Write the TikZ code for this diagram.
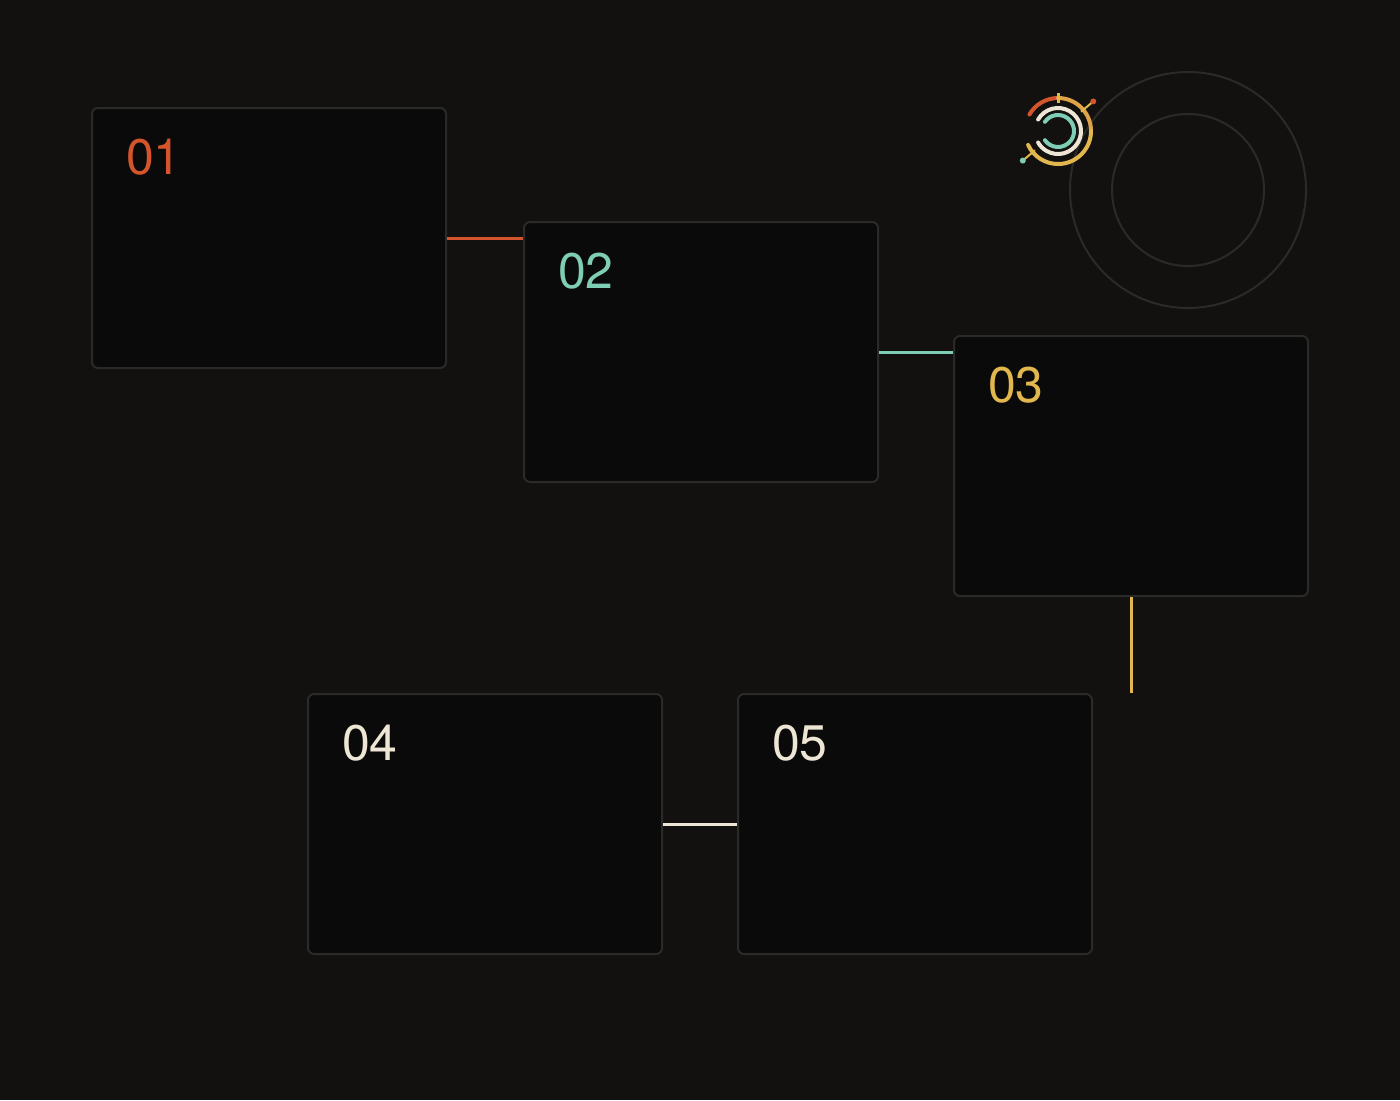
\documentclass[tikz,border=0pt]{standalone}
\usepackage{fontspec}
\setmainfont{TeX Gyre Heros}
\begin{document}
\definecolor{bg}{HTML}{121110}
\definecolor{boxf}{HTML}{0A0A0A}
\definecolor{boxd}{HTML}{2A2A28}
\definecolor{cred}{HTML}{D4552C}
\definecolor{cteal}{HTML}{7ECDB4}
\definecolor{cyel}{HTML}{E2B84E}
\definecolor{ccream}{HTML}{EEE6D4}
\begin{tikzpicture}[x=0.5pt,y=-0.5pt,
  box/.style={draw=boxd,fill=boxf,line width=1pt,rounded corners=3pt,minimum width=177pt,minimum height=130pt,inner sep=0pt},
  num/.style={font=\fontsize{25}{25}\selectfont,anchor=base west},
  conn/.style={line width=1.5pt},
  arcl/.style={line width=2pt,line cap=round}]
\fill[bg] (0,0) rectangle (1400,1100);
\useasboundingbox (0,0) rectangle (1400,1100);
\draw[boxd,line width=1pt] (1188,190) circle[radius=59pt] (1188,190) circle[radius=38pt];
\node[box] (b1) at (269,238) {};
\node[box] (b2) at (701,352) {};
\node[box] (b3) at (1131,466) {};
\node[box] (b4) at (485,824) {};
\node[box] (b5) at (915,824) {};
\node[num,text=cred] (t1) at (119,174) {01};
\node[num,text=cteal] (t2) at (551,288) {02};
\node[num,text=cyel] (t3) at (981,402) {03};
\node[num,text=ccream] (t4) at (335,760) {04};
\node[num,text=ccream] (t5) at (765,760) {05};
\draw[conn,cred] (b1.east) -- (b1.east -| b2.west);
\draw[conn,cteal] (b2.east) -- (b2.east -| b3.west);
\draw[conn,cyel] (b3.south) -- (b3.south |- b5.north);
\draw[conn,ccream] (b4.east) -- (b5.west);
% logo
\begin{scope}[shift={(1058,131)},x=0.5pt,y=0.5pt]
\draw[arcl,cred] (150:33) arc[start angle=150,end angle=90,radius=16.5pt];
\draw[arcl,cyel!80!cred] (90:33) arc[start angle=90,end angle=0,radius=16.5pt];
\draw[arcl,cyel] (0:33) arc[start angle=0,end angle=-155,radius=16.5pt];
\draw[arcl,ccream] (150:23) arc[start angle=150,end angle=-150,radius=11.5pt];
\draw[arcl,cteal] (145:16) arc[start angle=145,end angle=-145,radius=8pt];
\draw[cyel,line width=1.5pt] (90:28) -- (90:38);
\draw[cyel,line width=1pt] (40:30) -- (40:46);
\fill[cred] (40:46) circle[radius=1.5pt];
\draw[cyel,line width=1pt] (220:30) -- (220:46);
\fill[cteal] (220:46) circle[radius=1.5pt];
\end{scope}
\end{tikzpicture}
\end{document}
